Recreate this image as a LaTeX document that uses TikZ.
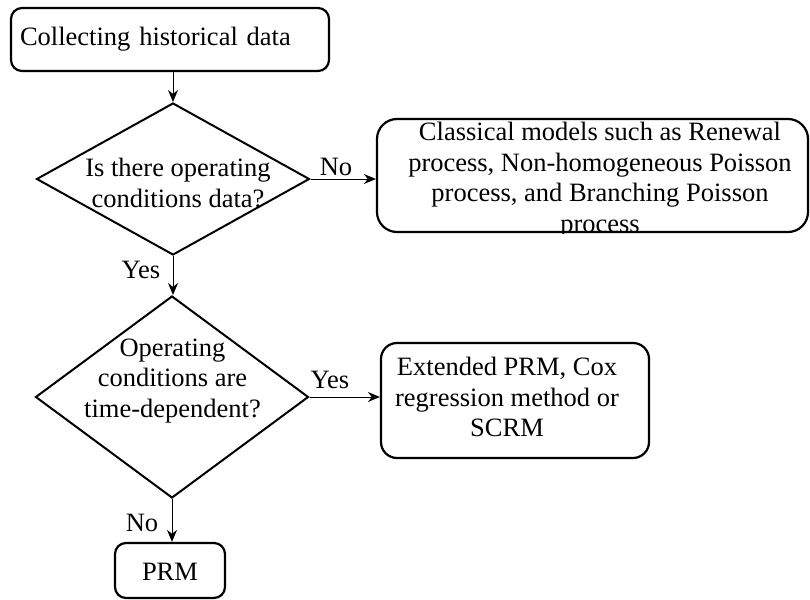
\documentclass[tikz,border=0pt]{standalone}
\usepackage{fontspec}
\setmainfont{Liberation Serif}
\usepackage{tikz}
\usetikzlibrary{shapes.geometric, arrows.meta}

\begin{document}
\begin{tikzpicture}[x=1pt, y=-1pt,
    every node/.style={font=\fontsize{26.5}{30.5}\selectfont, inner sep=0pt},
    stepbox/.style={draw, line width=2.2pt, rounded corners=#1},
    stepbox/.default=11pt,
    choice/.style={draw, diamond, line width=2pt},
    flow/.style={-{Stealth[length=12pt, width=10pt]}, line width=1pt}]
  \useasboundingbox (0, 0) rectangle (810, 599);
  % start
  \node[stepbox, minimum width=318pt, minimum height=63pt,
        text width=300pt, align=left] (collect) at (170, 39.5) {Collecting historical data};
  % first question
  \node[choice, minimum width=273pt, minimum height=152pt] (q1) at (173, 179) {};
  \node[align=center] (q1text) at (178, 183) {Is there operating\\conditions data?};
  % classical models, last line cut by the box
  \node[stepbox=20pt, minimum width=431pt, minimum height=113pt] (classic) at (592.5, 175.5) {};
  \begin{scope}
    \clip (classic.south west) rectangle (classic.north east);
    \node[align=center] (classictext) at (600, 180)
      {Classical models such as Renewal\\process, Non-homogeneous Poisson\\process, and Branching Poisson\\process};
  \end{scope}
  % second question
  \node[choice, minimum width=273pt, minimum height=202pt] (q2) at (172, 397) {};
  \node[align=center] (q2text) at (172.5, 381) {Operating\\conditions are\\time-dependent?};
  \node[stepbox=16pt, minimum width=268pt, minimum height=115pt] (extended) at (515, 400.5) {};
  \node[align=center] (extendedtext) at (507, 397) {Extended PRM, Cox\\regression method or\\SCRM};
  \node[stepbox, minimum width=110pt, minimum height=55pt] (prm) at (170, 570.5) {};
  \node (prmtext) at (170, 572) {PRM};
  % connectors
  \draw[flow] (collect.south -| q1.north) -- (q1.north);
  \draw[flow] (q1.east) -- (q1.east -| classic.west);
  \draw[flow] (q1.south) -- (q1.south |- q2.north);
  \draw[flow] (q2.east) -- (q2.east -| extended.west);
  \draw[flow] (q2.south) -- (q2.south |- prm.north);
  % answers
  \node (no1) at (336, 167) {No};
  \node (yes1) at (141, 270) {Yes};
  \node (yes2) at (330, 380) {Yes};
  \node (no2) at (142, 523) {No};
\end{tikzpicture}
\end{document}
